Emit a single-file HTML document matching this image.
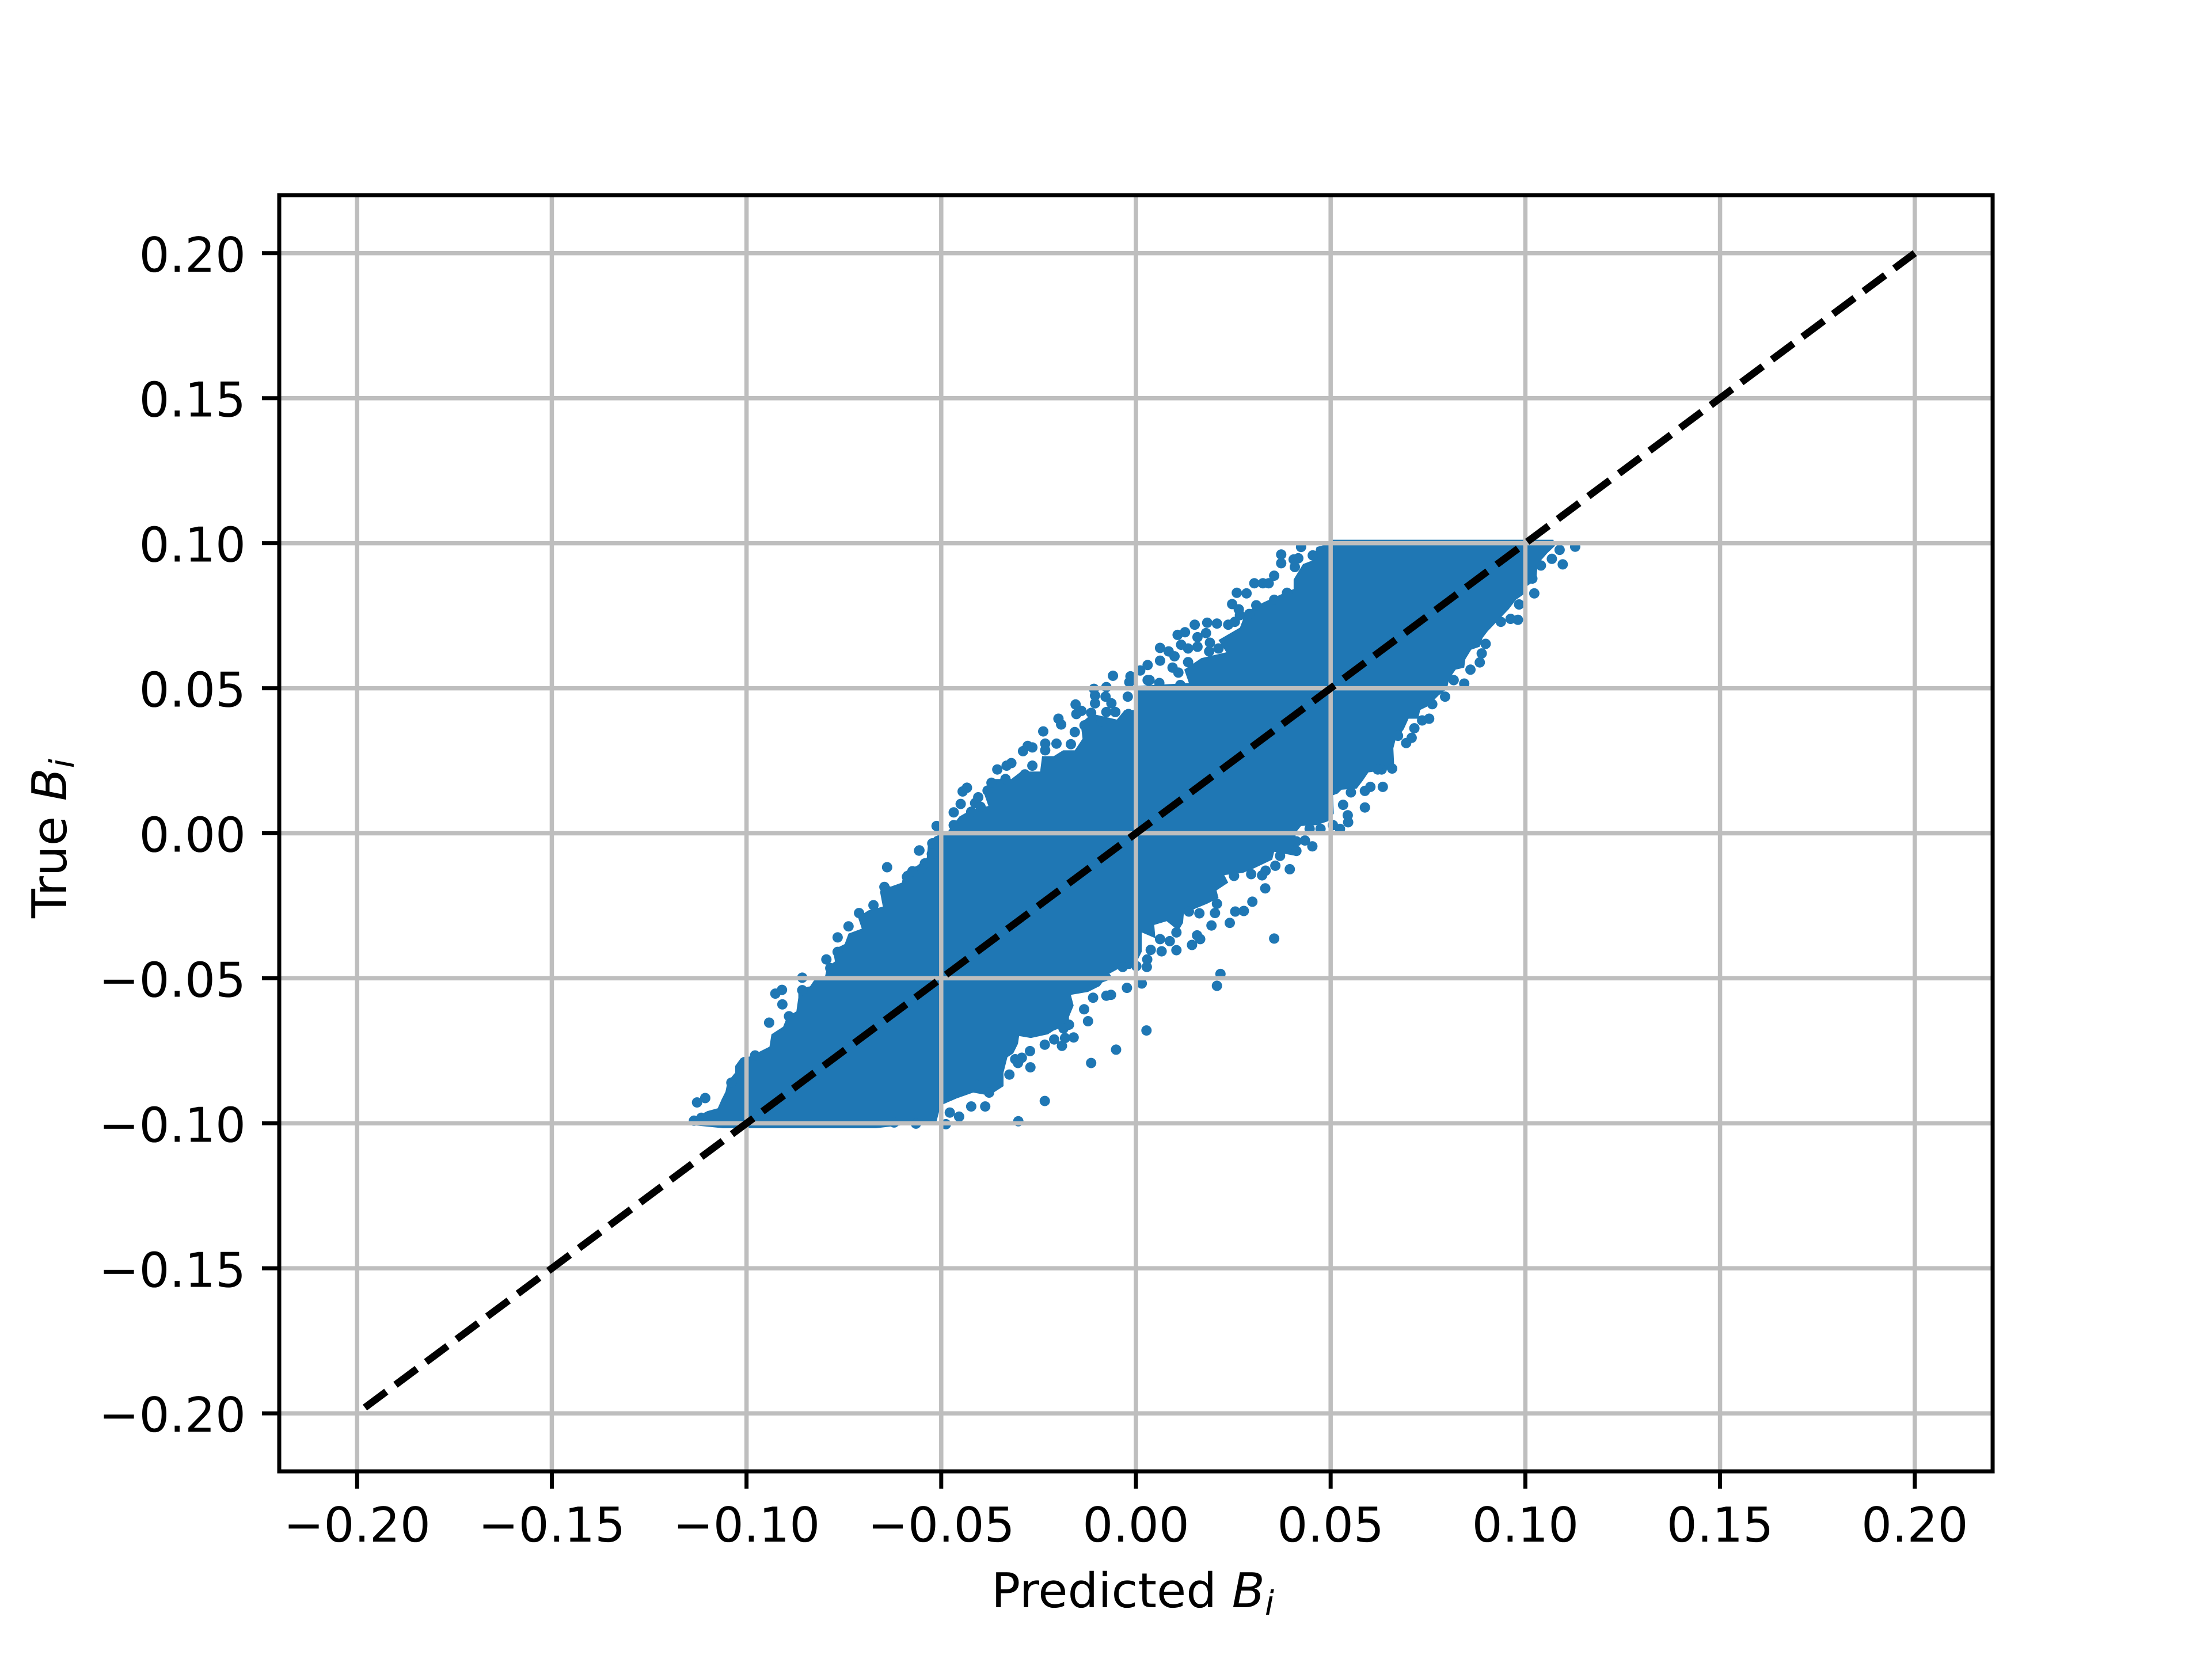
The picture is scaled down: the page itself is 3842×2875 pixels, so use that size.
<!DOCTYPE html>
<html lang="en">
<head>
<meta charset="utf-8">
<title>Predicted vs True B_i scatter</title>
<style>
  html, body { margin: 0; padding: 0; background: #ffffff; }
  svg { display: block; }
  text { font-family: "DejaVu Sans", "Liberation Sans", sans-serif; fill: #000000; text-rendering: geometricPrecision; }
</style>
</head>
<body>
<svg id="chart" xmlns="http://www.w3.org/2000/svg" width="3842" height="2875" viewBox="0 0 3842 2875">
  <rect x="0" y="0" width="3842" height="2875" fill="#ffffff"/>
  <defs>
    <clipPath id="plot-clip"><rect x="485" y="339" width="2976" height="2217"/></clipPath>
  </defs>
  <g id="scatter-layer" clip-path="url(#plot-clip)"></g>
  <g id="grid-layer" clip-path="url(#plot-clip)"></g>
  <g id="line-layer" clip-path="url(#plot-clip)"></g>
  <rect x="485" y="339" width="2976" height="2217" fill="none" stroke="#000000" stroke-width="7"/>
  <g id="tick-layer"></g>
  <text x="1722" y="2792" font-size="83.33">Predicted <tspan font-style="italic">B</tspan><tspan font-style="italic" font-size="58.3" dy="13">i</tspan></text>
  <text transform="translate(115,1595) rotate(-90)" x="0" y="0" font-size="83.33">True <tspan font-style="italic">B</tspan><tspan font-style="italic" font-size="58.3" dy="13">i</tspan></text>
</svg>
<script>
// Axis ticks and labels
const xTickValues = [-0.20, -0.15, -0.10, -0.05, 0.00, 0.05, 0.10, 0.15, 0.20];
const yTickValues = [-0.20, -0.15, -0.10, -0.05, 0.00, 0.05, 0.10, 0.15, 0.20];
const xTickLabels = ["\u22120.20", "\u22120.15", "\u22120.10", "\u22120.05", "0.00", "0.05", "0.10", "0.15", "0.20"];
const yTickLabels = ["\u22120.20", "\u22120.15", "\u22120.10", "\u22120.05", "0.00", "0.05", "0.10", "0.15", "0.20"];

// Identity reference line
const lineX = [-0.198, 0.2];
const lineY = [-0.198, 0.2];

// Outline of the saturated core of the point cloud (Predicted, True)
const corePredicted = [
  -.1148, -.1128, -.1101, -.1074, -.1064, -.1054, -.1049, -.1029, -.1029, -.1015, -.0990, -.0965, -.0941, -.0936, -.0906, -.0896, -.0872, -.0867, -.0867, -.0837, -.0827, -.0798, -.0793, -.0773, -.0778, -.0748, -.0738, -.0704, -.0714, -.0687, -.0650, -.0657, -.0650, -.0630, -.0601, -.0596, -.0561, -.0537, -.0534, -.0517,
  -.0482, -.0453, -.0423, -.0379, -.0391, -.0364, -.0320, -.0295, -.0246, -.0241, -.0211, -.0187, -.0157, -.0137, -.0142, -.0113, -.0049, -.0029, -.0002,
  .0005, .0136, .0124, .0168, .0232, .0212, .0267, .0282, .0326, .0370, .0405, .0405, .0429, .0454, .0464, .0493, .0503,
  .1072, .1076, .1056, .1032, .1028, .0999,
  .0994, .0976, .0957, .0922, .0903, .0890, .0883, .0861, .0846, .0843, .0821, .0804, .0799, .0777, .0750, .0730, .0725, .0700, .0688, .0666, .0661, .0663, .0651, .0597, .0582, .0567, .0528, .0518, .0506, .0508, .0493, .0464, .0424, .0410,
  .0410, .0355, .0350, .0303, .0274, .0227, .0237, .0207, .0212, .0183, .0123, .0121, .0109, .0079, .0047, .0050, .0015, .0015, .0005, -.0014, -.0046, -.0068, -.0059, -.0086, -.0093, -.0123, -.0167, -.0160, -.0172, -.0172, -.0211, -.0226, -.0270, -.0300, -.0303, -.0315, -.0330,
  -.0340, -.0340, -.0377, -.0418, -.0460, -.0501, -.0512, -.0667, -.1061, -.1134
];
const coreTrue = [
  -.0994, -.0977, -.0958, -.0948, -.0918, -.0891, -.0858, -.0825, -.0802, -.0776, -.0769, -.0752, -.0736, -.0693, -.0667, -.0633, -.0614, -.0567, -.0534, -.0528, -.0508, -.0491, -.0461, -.0442, -.0402, -.0382, -.0346, -.0329, -.0289, -.0266, -.0253, -.0203, -.0170, -.0184, -.0170, -.0134, -.0111, -.0084, -.0038, -.0012,
  .0008, .0058, .0081, .0094, .0141, .0187, .0187, .0213, .0213, .0266, .0266, .0286, .0286, .0326, .0379, .0412, .0392, .0425, .0425,
  .0508, .0518, .0564, .0604, .0624, .0666, .0709, .0762, .0795, .0822, .0842, .0875, .0928, .0941, .0987, .0997, .1012,
  .1012, .0991, .0965, .0928, .0874, .0847,
  .0822, .0805, .0772, .0723, .0696, .0673, .0643, .0633, .0600, .0571, .0564, .0531, .0498, .0475, .0438, .0425, .0395, .0395, .0359, .0319, .0293, .0240, .0220, .0210, .0180, .0154, .0150, .0137, .0131, .0068, .0041, .0028, .0025, .0002,
  -.0078, -.0064, -.0091, -.0121, -.0137, -.0144, -.0170, -.0197, -.0223, -.0243, -.0276, -.0309, -.0336, -.0303, -.0316, -.0362, -.0342, -.0408, -.0435, -.0468, -.0468, -.0484, -.0501, -.0514, -.0527, -.0547, -.0557, -.0594, -.0633, -.0660, -.0680, -.0693, -.0706, -.0699, -.0726, -.0759, -.0772,
  -.0825, -.0872, -.0904, -.0894, -.0914, -.0938, -.0993, -.1017, -.1017, -.1007
];

// Individually visible points along the fringe of the cloud
const fringePredicted = [
  -.1127, -.1106, -.1116, -.1135, -.1039, -.1005, -.0978, -.0942, -.0908, -.0926, -.0909, -.0857, -.0857, -.0891, -.0795, -.0785, -.0766, -.0766, -.0738, -.0711, -.0674, -.0639, -.0646, -.0556, -.0523, -.0524,
  -.0512, -.0522, -.0524, -.0557, -.0542, -.0551, -.0574, -.0588, -.0468, -.0468, -.0450, -.0445, -.0434, -.0405, -.0413, -.0399, -.0423, -.0381, -.0371, -.0356, -.0332, -.0320, -.0335, -.0285, -.0266, -.0290, -.0278, -.0266, -.0238, -.0233, -.0233, -.0204, -.0199, -.0192, -.0167, -.0157, -.0155, -.0153, -.0140, -.0115, -.0105, -.0105, -.0108, -.0076, -.0078, -.0063, -.0053, -.0076, -.0021, -.0019, -.0059, -.0017, -.0014, .0011, .0030, .0030, -.0132, -.0088,
  .0062, .0062, .0084, .0099, .0094, .0109, .0107, .0126, .0116, .0151, .0183, .0208, .0237, .0254, .0158, .0180, .0190, .0134, .0158, .0134, .0035, .0060, .0114, .0259, .0284, .0247, .0264, .0267, .0304, .0326, .0341, .0355, .0373, .0373, .0405, .0417, .0408, .0424, .0454, .0388, .0355, .0309, .0291, .0212, .0188,
  .1023, .1018, .0984, .0981, .0962, .0937, .0898, .0888, .0883, .0859, .0843, .0816, .0794, .0761, .0753, .0735, .0715, .0708, .0694, .0673, .0658, .0631, .0621, .0634, .0602, .0588, .0588, .0544, .0545, .0552, .0532, .0524, .0506, .0474, .0446, .0434, .0453, .0412, .0412,
  .1128, .1088, .1096, .1068, .1040,
  .0395, .0370, .0358, .0333, .0324, .0332, .0299, .0277, .0255, .0241, .0203, .0194, .0208, .0163, .0136, .0165, .0157, .0144, .0104, .0104, .0087, .0066, .0062, .0028, .0029, .0038, .0001, .0355, .0217, .0208, .0027, .0015, -.0023, -.0051, -.0115, -.0123, -.0133, -.0110, -.0064, -.0076, -.0160, -.0182, -.0190, -.0210, -.0234, -.0272, -.0271, -.0234, -.0293, -.0310, -.0303, -.0325, -.0172, -.0186, .0296, .0252, -.0034,
  -.0387, -.0423, -.0454, -.0478, -.0488, -.0565, -.0621, -.0302, -.0377, -.0408
];
const fringeTrue = [
  -.0928, -.0913, -.0981, -.0991, -.0860, -.0789, -.0766, -.0653, -.0590, -.0553, -.0540, -.0498, -.0541, -.0631, -.0435, -.0465, -.0359, -.0409, -.0321, -.0275, -.0248, -.0117, -.0185, -.0059, -.0035, -.0071,
  .0025, -.0035, -.0071, -.0060, -.0104, -.0124, -.0131, -.0150, .0028, .0072, .0101, .0144, .0157, .0124, .0104, .0091, .0074, .0147, .0174, .0220, .0233, .0242, .0187, .0203, .0233, .0283, .0301, .0296, .0351, .0309, .0286, .0309, .0395, .0375, .0307, .0349, .0444, .0411, .0422, .0415, .0448, .0475, .0498, .0504, .0471, .0448, .0418, .0418, .0471, .0411, .0543, .0521, .0541, .0561, .0528, .0580, .0372, .0385,
  .0639, .0595, .0627, .0610, .0571, .0554, .0684, .0693, .0650, .0719, .0726, .0723, .0719, .0729, .0676, .0690, .0657, .0637, .0643, .0590, .0528, .0518, .0511, .0829, .0827, .0790, .0772, .0752, .0862, .0862, .0862, .0888, .0961, .0931, .0944, .0948, .0918, .0987, .0958, .0829, .0805, .0786, .0756, .0637, .0627,
  .0827, .0878, .0789, .0736, .0739, .0729, .0653, .0620, .0589, .0564, .0516, .0528, .0471, .0445, .0395, .0389, .0362, .0329, .0311, .0336, .0223, .0220, .0220, .0160, .0160, .0146, .0089, .0062, .0038, .0141, .0098, .0015, .0028, .0015, .0015, -.0025, -.0045, -.0028, -.0061,
  .0988, .0977, .0927, .0946, .0923,
  -.0124, -.0078, -.0112, -.0129, -.0145, -.0190, -.0236, -.0268, -.0270, -.0309, -.0275, -.0318, -.0243, -.0276, -.0270, -.0365, -.0352, -.0385, -.0403, -.0342, -.0372, -.0407, -.0365, -.0461, -.0435, -.0402, -.0458, -.0363, -.0485, -.0526, -.0680, -.0518, -.0533, -.0746, -.0792, -.0648, -.0607, -.0567, -.0557, -.0560, -.0704, -.0706, -.0733, -.0711, -.0729, -.0751, -.0807, -.0923, -.0774, -.0779, -.0792, -.0832, -.0660, -.0673, -.0141, -.0147, -.0461,
  -.0942, -.0942, -.0977, -.0963, -.1003, -.1001, -.0997, -.0993, -.0894, -.0868
];

const SVG_NS = "http://www.w3.org/2000/svg";
const plotLeft = 485, plotRight = 3461, plotTop = 339, plotBottom = 2556;
const xMin = -0.22, xMax = 0.22, yMin = -0.22, yMax = 0.22;

function xScale(v) { return plotLeft + (v - xMin) / (xMax - xMin) * (plotRight - plotLeft); }
function yScale(v) { return plotBottom - (v - yMin) / (yMax - yMin) * (plotBottom - plotTop); }

function makeSvg(tag) { return document.createElementNS(SVG_NS, tag); }

const scatterLayer = document.getElementById("scatter-layer");
const gridLayer = document.getElementById("grid-layer");
const lineLayer = document.getElementById("line-layer");
const tickLayer = document.getElementById("tick-layer");

// Dense core of the scatter
const corePoints = corePredicted.map(function (p, i) {
  return xScale(p).toFixed(1) + "," + yScale(coreTrue[i]).toFixed(1);
}).join(" ");
const core = makeSvg("polygon");


core.setAttribute("points", corePoints);
core.setAttribute("fill", "#1f77b4");
scatterLayer.appendChild(core);

// Fringe points
fringePredicted.forEach(function (p, i) {
  const dot = makeSvg("circle");
  
  
  dot.setAttribute("cx", xScale(p).toFixed(1));
  dot.setAttribute("cy", yScale(fringeTrue[i]).toFixed(1));
  dot.setAttribute("r", "9");
  dot.setAttribute("fill", "#1f77b4");
  scatterLayer.appendChild(dot);
});

// Vertical grid lines, x ticks and x tick labels
xTickValues.forEach(function (v, i) {
  const px = xScale(v);

  const grid = makeSvg("line");
  
  
  grid.setAttribute("x1", px);
  grid.setAttribute("x2", px);
  grid.setAttribute("y1", plotTop);
  grid.setAttribute("y2", plotBottom);
  grid.setAttribute("stroke", "#bebebe");
  grid.setAttribute("stroke-width", "7.5");
  gridLayer.appendChild(grid);

  const tick = makeSvg("line");
  
  
  tick.setAttribute("x1", px);
  tick.setAttribute("x2", px);
  tick.setAttribute("y1", plotBottom);
  tick.setAttribute("y2", plotBottom + 30);
  tick.setAttribute("stroke", "#000000");
  tick.setAttribute("stroke-width", "7");
  tickLayer.appendChild(tick);

  const label = makeSvg("text");
  
  
  label.setAttribute("x", px);
  label.setAttribute("y", 2678);
  label.setAttribute("font-size", "83.33");
  label.setAttribute("text-anchor", "middle");
  label.textContent = xTickLabels[i];
  tickLayer.appendChild(label);
});

// Horizontal grid lines, y ticks and y tick labels
yTickValues.forEach(function (v, i) {
  const py = yScale(v);

  const grid = makeSvg("line");
  
  
  grid.setAttribute("x1", plotLeft);
  grid.setAttribute("x2", plotRight);
  grid.setAttribute("y1", py);
  grid.setAttribute("y2", py);
  grid.setAttribute("stroke", "#bebebe");
  grid.setAttribute("stroke-width", "7.5");
  gridLayer.appendChild(grid);

  const tick = makeSvg("line");
  
  
  tick.setAttribute("x1", plotLeft - 30);
  tick.setAttribute("x2", plotLeft);
  tick.setAttribute("y1", py);
  tick.setAttribute("y2", py);
  tick.setAttribute("stroke", "#000000");
  tick.setAttribute("stroke-width", "7");
  tickLayer.appendChild(tick);

  const label = makeSvg("text");
  
  
  label.setAttribute("x", 427);
  label.setAttribute("y", py + 32);
  label.setAttribute("font-size", "83.33");
  label.setAttribute("text-anchor", "end");
  label.textContent = yTickLabels[i];
  tickLayer.appendChild(label);
});

// Dashed identity line
const identity = makeSvg("line");


identity.setAttribute("x1", xScale(lineX[0]));
identity.setAttribute("y1", yScale(lineY[0]));
identity.setAttribute("x2", xScale(lineX[1]));
identity.setAttribute("y2", yScale(lineY[1]));
identity.setAttribute("stroke", "#000000");
identity.setAttribute("stroke-width", "12.5");
identity.setAttribute("stroke-dasharray", "46.25 20");
lineLayer.appendChild(identity);
</script>
</body>
</html>
